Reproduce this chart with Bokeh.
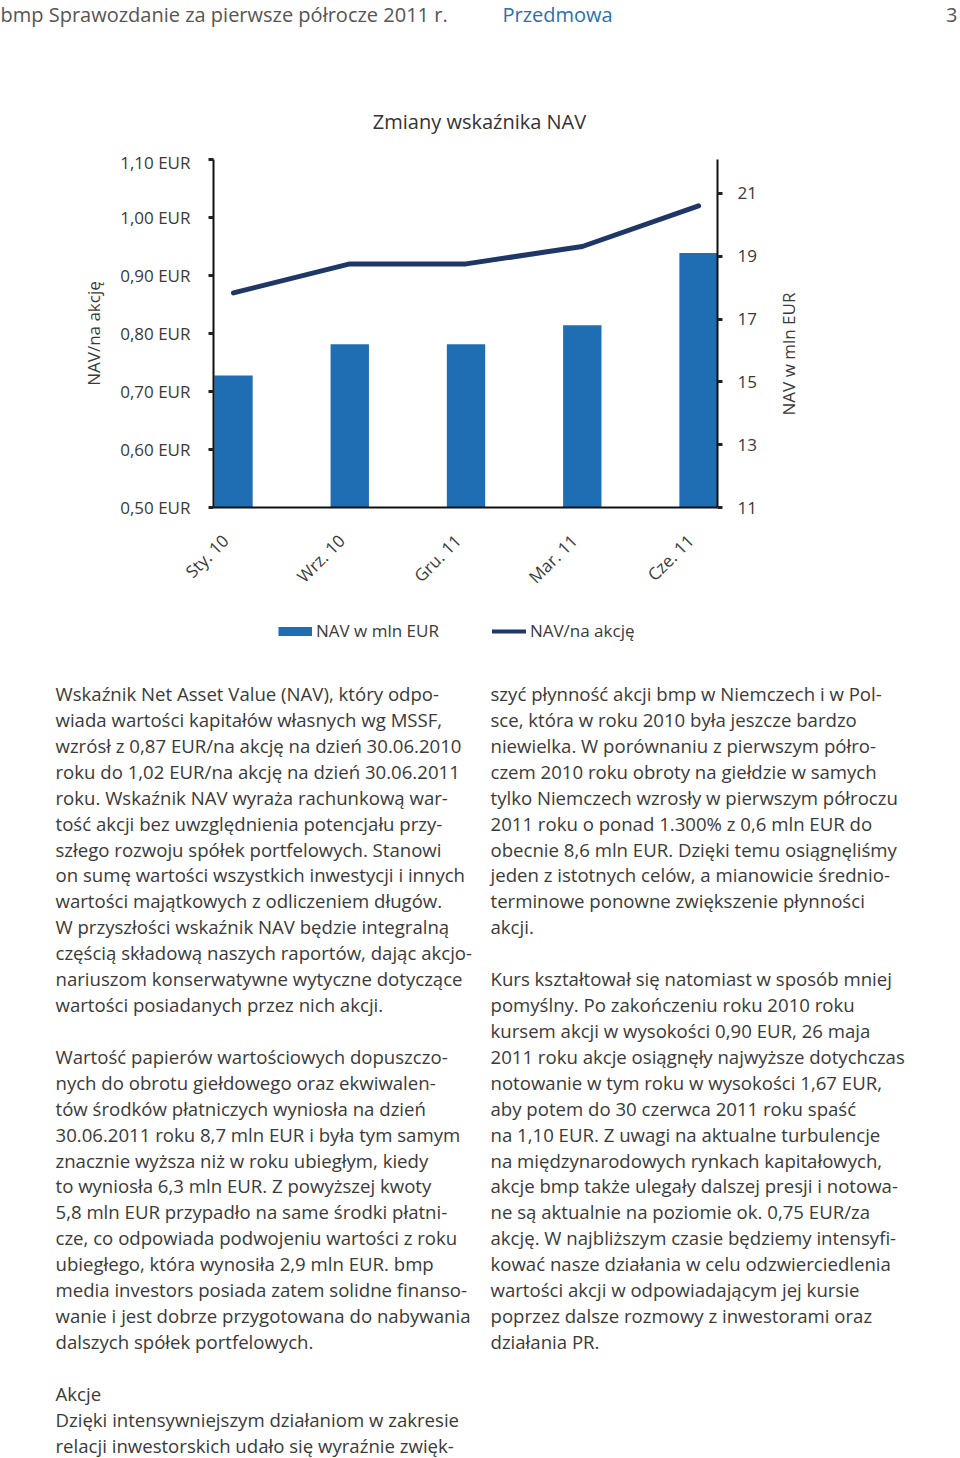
import math
import numpy as np
from bokeh.plotting import figure
from bokeh.models import Range1d, LinearAxis, FixedTicker, Legend, LegendItem
from bokeh.embed import file_html
from bokeh.resources import INLINE
from bokeh.core.properties import value

# ---------------- data ----------------
categories = ["Sty. 10", "Wrz. 10", "Gru. 11", "Mar. 11", "Cze. 11"]
nav_mln_eur = [15.2, 16.2, 16.2, 16.8, 19.1]          # bars, right axis
nav_per_share = [0.87, 0.92, 0.92, 0.95, 1.02]        # line, left axis
left_ticks = [0.5, 0.6, 0.7, 0.8, 0.9, 1.0, 1.1]
left_tick_labels = ["0,50 EUR", "0,60 EUR", "0,70 EUR", "0,80 EUR",
                    "0,90 EUR", "1,00 EUR", "1,10 EUR"]
right_ticks = [11, 13, 15, 17, 19, 21]

chart_title = "Zmiany wskaźnika NAV"
left_axis_title = "NAV/na akcję"
right_axis_title = "NAV w mln EUR"
bar_series = "NAV w mln EUR"
line_series = "NAV/na akcję"

header_left = "bmp  Sprawozdanie za pierwsze półrocze 2011 r."
header_mid = "Przedmowa"
header_page = "3"

left_column = [
    "Wskaźnik Net Asset Value (NAV), który odpo-",
    "wiada wartości kapitałów własnych wg MSSF,",
    "wzrósł z 0,87 EUR/na akcję na dzień 30.06.2010",
    "roku do 1,02 EUR/na akcję na dzień 30.06.2011",
    "roku. Wskaźnik NAV wyraża rachunkową war-",
    "tość akcji bez uwzględnienia potencjału przy-",
    "szłego rozwoju spółek portfelowych. Stanowi",
    "on sumę wartości wszystkich inwestycji i innych",
    "wartości majątkowych z odliczeniem długów.",
    "W przyszłości wskaźnik  NAV będzie integralną",
    "częścią składową naszych raportów, dając akcjo-",
    "nariuszom konserwatywne wytyczne dotyczące",
    "wartości posiadanych przez nich akcji.",
    "",
    "Wartość papierów wartościowych dopuszczo-",
    "nych do obrotu giełdowego oraz ekwiwalen-",
    "tów środków płatniczych wyniosła na dzień",
    "30.06.2011 roku 8,7 mln EUR i była tym samym",
    "znacznie wyższa niż w roku ubiegłym, kiedy",
    "to wyniosła  6,3 mln EUR. Z powyższej kwoty",
    "5,8 mln EUR przypadło na same środki płatni-",
    "cze, co odpowiada podwojeniu wartości z roku",
    "ubiegłego, która wynosiła 2,9 mln EUR. bmp",
    "media investors posiada zatem solidne finanso-",
    "wanie i jest dobrze przygotowana do nabywania",
    "dalszych spółek portfelowych.",
    "",
    "Akcje",
    "Dzięki intensywniejszym działaniom w zakresie",
    "relacji inwestorskich udało się  wyraźnie zwięk-",
]
right_column = [
    "szyć płynność akcji bmp w Niemczech i w Pol-",
    "sce, która w roku 2010 była jeszcze bardzo",
    "niewielka. W porównaniu z pierwszym półro-",
    "czem 2010 roku obroty na giełdzie w samych",
    "tylko Niemczech wzrosły w pierwszym półroczu",
    "2011 roku o ponad 1.300% z 0,6 mln EUR do",
    "obecnie 8,6 mln EUR. Dzięki temu osiągnęliśmy",
    "jeden z istotnych celów, a mianowicie średnio-",
    "terminowe ponowne zwiększenie płynności",
    "akcji.",
    "",
    "Kurs kształtował się natomiast w sposób mniej",
    "pomyślny. Po zakończeniu roku 2010 roku",
    "kursem akcji w wysokości 0,90 EUR, 26 maja",
    "2011 roku akcje osiągnęły najwyższe dotychczas",
    "notowanie w tym roku w wysokości 1,67 EUR,",
    "aby potem do 30 czerwca 2011 roku spaść",
    "na 1,10 EUR. Z uwagi na aktualne turbulencje",
    "na międzynarodowych rynkach kapitałowych,",
    "akcje bmp także ulegały dalszej presji i notowa-",
    "ne są aktualnie na poziomie ok. 0,75 EUR/za",
    "akcję.  W najbliższym czasie będziemy intensyfi-",
    "kować nasze działania w celu odzwierciedlenia",
    "wartości akcji w odpowiadającym jej kursie",
    "poprzez dalsze rozmowy z inwestorami oraz",
    "działania PR.",
]

# ---------------- style ----------------
FONT = "Open Sans"
TEXT_COLOR = "#3a3a3a"
BAR_COLOR = "#1f6eb4"
LINE_COLOR = "#1f3766"
W = 960


def text_canvas(h):
    f = figure(width=W, height=h, x_range=Range1d(0, W), y_range=Range1d(h, 0),
               x_axis_location=None, y_axis_location=None, min_border=0,
               output_backend="svg", toolbar_location=None)
    f.grid.visible = False
    f.outline_line_color = None
    return f


# ---------------- header + chart title (page y 0..150) ----------------
HA = 150
pa = text_canvas(HA)
pa.text(x=[0], y=[14], text=[header_left], text_font=value(FONT), text_font_size="20px",
        text_color="#555555", text_baseline="middle", text_align="left")
pa.text(x=[502], y=[14], text=[header_mid], text_font=value(FONT), text_font_size="20px",
        text_color="#2a6fb0", text_baseline="middle", text_align="left")
pa.text(x=[957], y=[14], text=[header_page], text_font=value(FONT), text_font_size="20px",
        text_color="#555555", text_baseline="middle", text_align="right")
pa.text(x=[479], y=[121], text=[chart_title], text_font=value(FONT), text_font_size="20px",
        text_color="#333333", text_baseline="middle", text_align="center")

# ---------------- chart (page y 150..600) ----------------
HB = 450
xs = list(range(len(categories)))
pb = figure(width=W, height=HB, x_range=Range1d(-0.172, 4.163),
            y_range=Range1d(left_ticks[0], left_ticks[-1]),
            min_border_left=213, min_border_right=243, min_border_top=9,
            min_border_bottom=93, output_backend="svg", toolbar_location=None)
pb.grid.visible = False
pb.outline_line_color = None
pb.extra_y_ranges = {"right": Range1d(right_ticks[0], 22.08)}

bars = pb.vbar(x=xs, top=nav_mln_eur, bottom=right_ticks[0], width=0.33,
               y_range_name="right", fill_color=BAR_COLOR, line_color=None)
ln = pb.line(x=xs, y=nav_per_share, line_width=5, line_color=LINE_COLOR,
             line_cap="round", line_join="round")

# category labels sit slightly left of the bar centres, as in the original
LABEL_SHIFT = 0.07
label_pos = [round(x - LABEL_SHIFT, 3) for x in xs]
xa = pb.xaxis[0]
xa.ticker = FixedTicker(ticks=label_pos)
xa.major_label_overrides = {p: c for p, c in zip(label_pos, categories)}
xa.major_label_orientation = math.pi / 4
xa.major_tick_in = 0
xa.major_tick_out = 0
xa.minor_tick_line_color = None
xa.axis_line_color = "#111111"
xa.axis_line_width = 2
xa.major_label_standoff = 30
xa.major_label_text_font = FONT
xa.major_label_text_font_size = "17px"
xa.major_label_text_color = TEXT_COLOR

ya = pb.yaxis[0]
ya.ticker = FixedTicker(ticks=left_ticks)
ya.major_label_overrides = {t: l for t, l in zip(left_ticks, left_tick_labels)}
ya.major_tick_in = 0
ya.major_tick_out = 5
ya.major_tick_line_width = 3
ya.major_tick_line_color = "#222222"
ya.minor_tick_line_color = None
ya.axis_line_color = "#111111"
ya.axis_line_width = 2
ya.major_label_standoff = 18
ya.major_label_text_font = FONT
ya.major_label_text_font_size = "17px"
ya.major_label_text_color = TEXT_COLOR
ya.axis_label = left_axis_title
ya.axis_label_standoff = 12
ya.axis_label_text_font = FONT
ya.axis_label_text_font_size = "17px"
ya.axis_label_text_font_style = "normal"
ya.axis_label_text_color = TEXT_COLOR

ra = LinearAxis(y_range_name="right", ticker=FixedTicker(ticks=right_ticks))
ra.major_tick_in = 0
ra.major_tick_out = 5
ra.major_tick_line_width = 3
ra.major_tick_line_color = "#222222"
ra.minor_tick_line_color = None
ra.axis_line_color = "#111111"
ra.axis_line_width = 2
ra.major_label_standoff = 15
ra.major_label_text_font = FONT
ra.major_label_text_font_size = "17px"
ra.major_label_text_color = TEXT_COLOR
pb.add_layout(ra, "right")

# right-hand axis title, reading upwards like the original (a bare outer axis
# whose single label is the title)
RIGHT_TITLE_START = 13.93
rt = LinearAxis(y_range_name="right", ticker=FixedTicker(ticks=[RIGHT_TITLE_START]))
rt.major_label_overrides = {RIGHT_TITLE_START: right_axis_title}
rt.major_label_orientation = math.pi / 2
rt.major_tick_in = 0
rt.major_tick_out = 0
rt.minor_tick_line_color = None
rt.axis_line_color = None
rt.major_label_standoff = 29
rt.major_label_text_font = FONT
rt.major_label_text_font_size = "17px"
rt.major_label_text_color = TEXT_COLOR
pb.add_layout(rt, "right")

# ---------------- legend + body text (page y 600..1458) ----------------
HC = 858
pc = text_canvas(HC)
# legend keys: point-less proxies styled like the two series
key_bar = pc.line(x=np.array([np.nan]), y=np.array([np.nan]), line_color=BAR_COLOR,
                  line_width=9, line_cap="butt")
key_line = pc.line(x=np.array([np.nan]), y=np.array([np.nan]), line_color=LINE_COLOR,
                   line_width=4, line_cap="round")
legend = Legend(items=[LegendItem(label=bar_series, renderers=[key_bar]),
                       LegendItem(label=line_series, renderers=[key_line])],
                orientation="horizontal", location=(278, 816),
                glyph_width=34, glyph_height=20, label_standoff=4, spacing=53,
                label_height=20, padding=0, margin=0,
                label_text_font=FONT, label_text_font_size="17px",
                label_text_color=TEXT_COLOR, border_line_color=None,
                background_fill_alpha=0)
pc.add_layout(legend, "center")

TOP = 693 - 600
STEP = 25.92
lx = [55] * len(left_column)
ly = [TOP + i * STEP for i in range(len(left_column))]
rx = [490] * len(right_column)
ry = [TOP + i * STEP for i in range(len(right_column))]
pc.text(x=lx + rx, y=ly + ry, text=left_column + right_column, text_font=value(FONT),
        text_font_size="18.6px", text_color=TEXT_COLOR, text_baseline="middle",
        text_align="left")

open("out.html", "w").write(file_html([pa, pb, pc], INLINE))
